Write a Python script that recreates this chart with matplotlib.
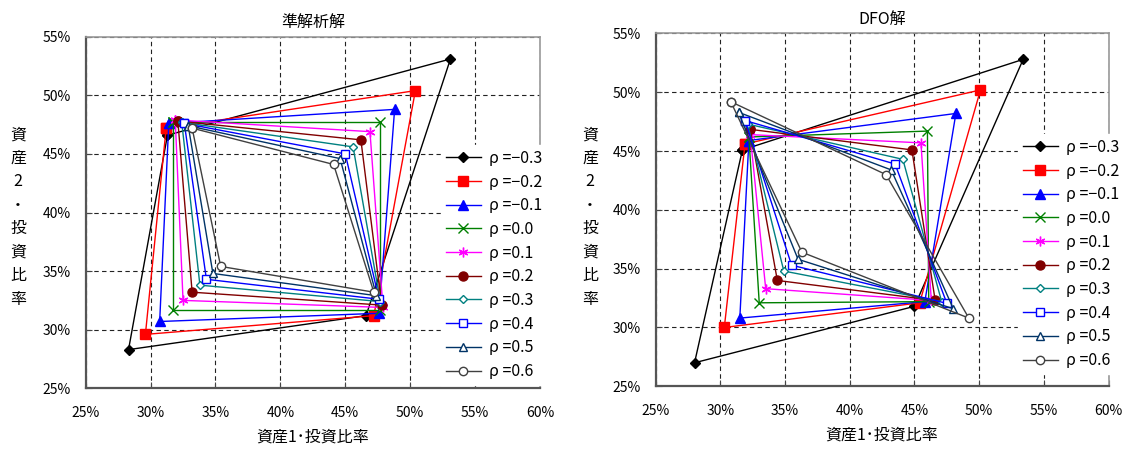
import matplotlib
matplotlib.use('Agg')
import matplotlib.pyplot as plt
from matplotlib.ticker import FuncFormatter

plt.rcParams['font.family'] = ['Noto Sans CJK JP', 'DejaVu Sans']

# 相関係数
rho_list = [-0.3, -0.2, -0.1, 0.0, 0.1, 0.2, 0.3, 0.4, 0.5, 0.6]

# 準解析解 (各ρで4期の投資比率 [%])
ana_x = [
    [31.3, 53.1, 46.6, 28.3],
    [31.2, 50.4, 47.2, 29.6],
    [31.4, 48.8, 47.6, 30.7],
    [31.7, 47.7, 47.7, 31.7],
    [31.9, 46.9, 47.9, 32.5],
    [32.1, 46.2, 47.8, 33.2],
    [32.4, 45.6, 47.7, 33.8],
    [32.6, 45.0, 47.6, 34.3],
    [32.9, 44.6, 47.4, 34.8],
    [33.2, 44.1, 47.2, 35.4],
]
ana_y = [
    [46.6, 53.1, 31.2, 28.3],
    [47.2, 50.4, 31.2, 29.6],
    [47.6, 48.8, 31.4, 30.7],
    [47.7, 47.7, 31.7, 31.7],
    [47.9, 46.9, 31.9, 32.5],
    [47.8, 46.2, 32.1, 33.2],
    [47.7, 45.6, 32.4, 33.8],
    [47.6, 45.0, 32.6, 34.3],
    [47.4, 44.6, 32.9, 34.8],
    [47.2, 44.1, 33.2, 35.4],
]

# DFO解
dfo_x = [
    [31.7, 53.4, 45.0, 28.0],
    [31.9, 50.1, 45.4, 30.3],
    [32.2, 48.2, 45.8, 31.5],
    [32.2, 46.0, 46.1, 33.0],
    [32.3, 45.5, 46.3, 33.5],
    [32.3, 44.8, 46.6, 34.4],
    [32.1, 44.1, 47.1, 34.9],
    [31.9, 43.5, 47.5, 35.5],
    [31.4, 43.2, 48.0, 36.0],
    [30.8, 42.8, 49.2, 36.3],
]
dfo_y = [
    [45.1, 52.8, 31.8, 27.0],
    [45.6, 50.2, 32.1, 30.0],
    [45.9, 48.2, 32.2, 30.8],
    [46.2, 46.7, 32.2, 32.1],
    [46.4, 45.7, 32.3, 33.3],
    [46.85, 45.1, 32.3, 34.0],
    [47.3, 44.3, 32.2, 34.8],
    [47.6, 43.9, 32.05, 35.3],
    [48.3, 43.4, 31.6, 35.8],
    [49.2, 43.0, 30.8, 36.4],
]

colors = ['black', '#FF0000', '#0000FF', '#008000', '#FF00FF',
          '#800000', '#008080', '#0000FF', '#003366', '#404040']
markers = ['D', 's', '^', 'x', (6, 2, 0), 'o', 'D', 's', '^', 'o']
filled = [True, True, True, True, True, True, False, False, False, False]
msizes = [5, 6.5, 6.5, 6.5, 7, 6.5, 4.5, 6, 6, 6]

fig = plt.figure(figsize=(11.29, 4.55), dpi=100)
ax1 = fig.add_axes([0.0759, 0.1466, 0.4024, 0.7727])
ax2 = fig.add_axes([0.5808, 0.151, 0.4011, 0.7754])

pct = FuncFormatter(lambda v, p: '%d%%' % v)


def draw(ax, xs, ys, title, leg_pos):
    for i, r in enumerate(rho_list):
        x = xs[i] + [xs[i][0]]
        y = ys[i] + [ys[i][0]]
        ax.plot(x, y, color=colors[i], lw=1.0, marker=markers[i],
                markersize=msizes[i], markeredgewidth=1.0,
                markerfacecolor=colors[i] if filled[i] else 'white',
                markeredgecolor=colors[i],
                label='ρ =%s' % ('%.1f' % r).replace('-', '−'), zorder=3)
    ax.set_xlim(25, 60)
    ax.set_ylim(25, 55)
    ax.set_xticks(range(25, 61, 5))
    ax.set_yticks(range(25, 56, 5))
    ax.xaxis.set_major_formatter(pct)
    ax.yaxis.set_major_formatter(pct)
    ax.grid(True, color='#222222', linestyle=(0, (4, 3)), lw=0.8)
    ax.tick_params(direction='in', length=4, labelsize=10, color='#444444')
    ax.tick_params(axis='x', pad=13)
    ax.tick_params(axis='y', pad=11)
    for s in ['left', 'bottom']:
        ax.spines[s].set_color('#555555')
        ax.spines[s].set_linewidth(1.6)
    for s in ['top', 'right']:
        ax.spines[s].set_color('#999999')
        ax.spines[s].set_linewidth(1.2)
    ax.set_title(title, fontsize=11.5, pad=7)
    ax.set_xlabel('資産1･投資比率', fontsize=11.5, labelpad=6)
    leg = ax.legend(loc='upper left', bbox_to_anchor=leg_pos,
                    bbox_transform=fig.transFigure, fontsize=11.5,
                    frameon=True, fancybox=False, framealpha=1,
                    edgecolor='white', facecolor='white',
                    handlelength=2.2, handletextpad=0.5, labelspacing=0.42,
                    borderpad=0.3, borderaxespad=0, numpoints=1)
    leg.set_zorder(10)
    return leg


draw(ax1, ana_x, ana_y, '準解析解', (441 / 1129, 1 - 145 / 455))
draw(ax2, dfo_x, dfo_y, 'DFO解', (1018 / 1129, 1 - 134 / 455))

ylab = '\n'.join(['資', '産', '2', '・', '投', '資', '比', '率'])
fig.text(18 / 1129, 1 - 217 / 455, ylab, fontsize=11.5, ha='center',
         va='center', linespacing=1.5)
fig.text(590 / 1129, 1 - 217 / 455, ylab, fontsize=11.5, ha='center',
         va='center', linespacing=1.5)

fig.savefig('out.png', dpi=100)
